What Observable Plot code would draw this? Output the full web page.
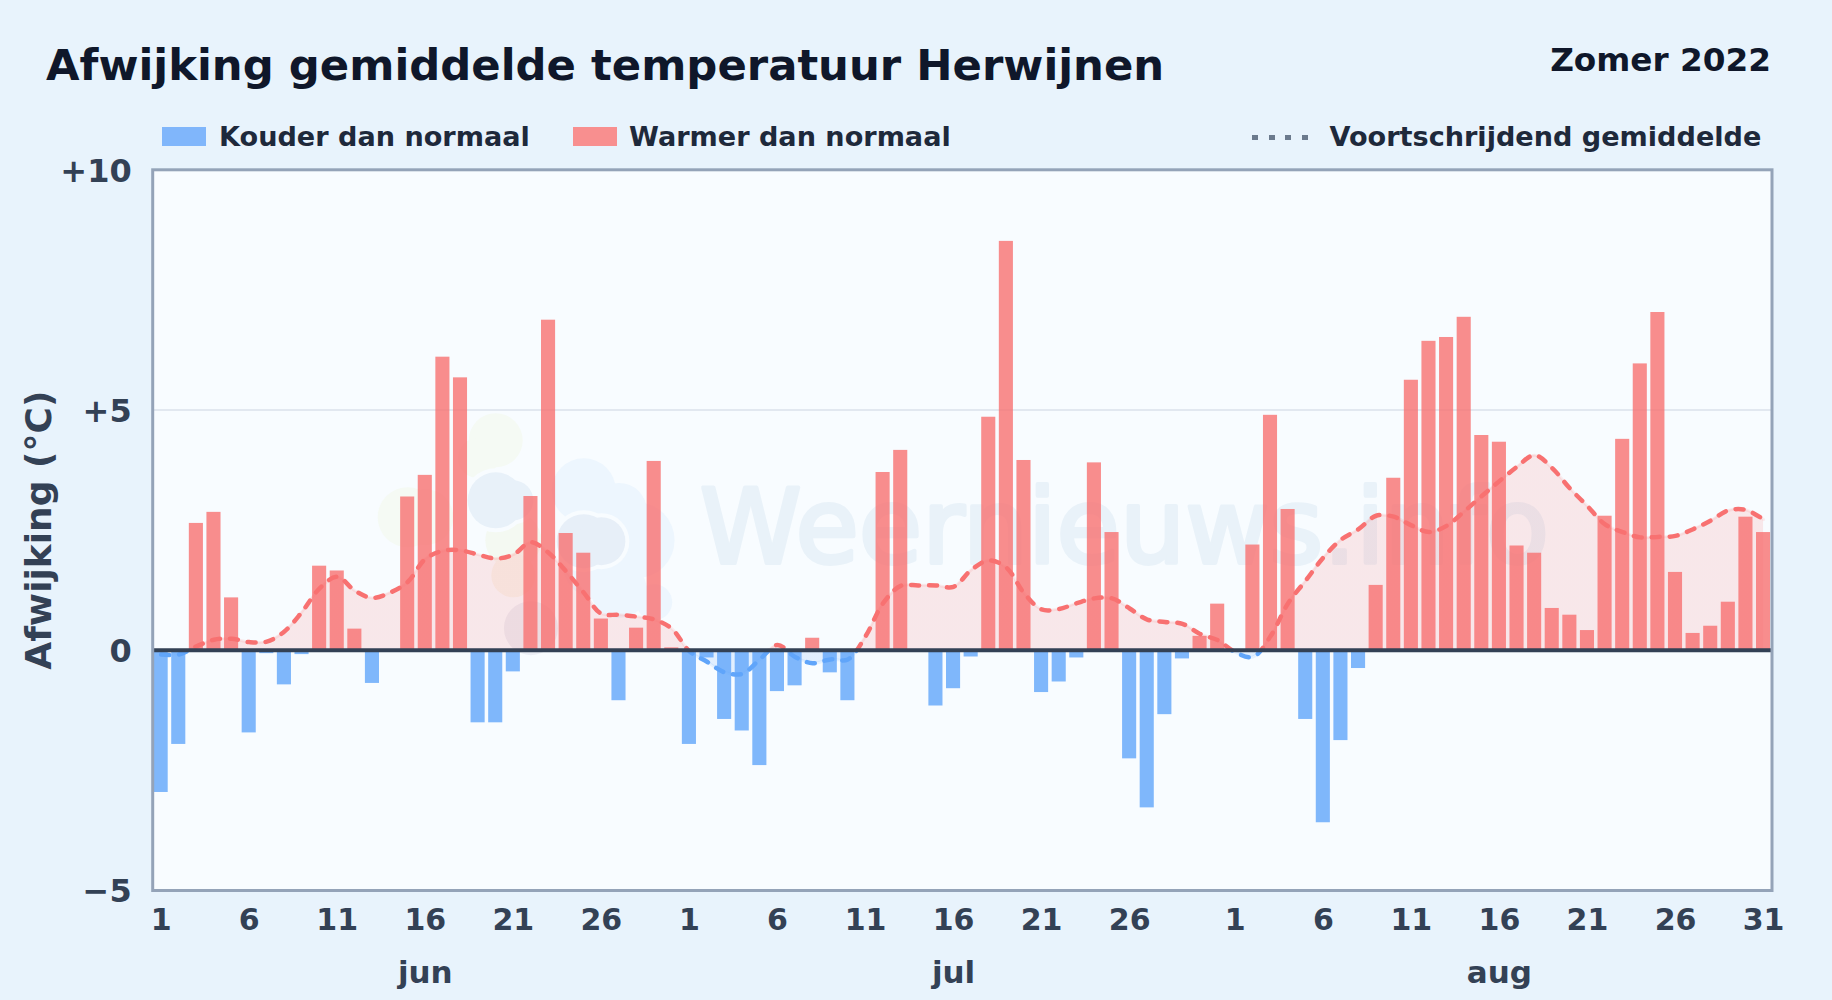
<!DOCTYPE html>
<html lang="nl">
<head>
<meta charset="utf-8">
<script src="https://cdn.jsdelivr.net/npm/d3@7"></script>
<script src="https://cdn.jsdelivr.net/npm/@observablehq/plot@0.6"></script>
<style>
  html,body{margin:0;padding:0;background:#e8f3fc;width:1832px;height:1000px;overflow:hidden;font-family:"DejaVu Sans",sans-serif;font-weight:700}
  #header{position:relative;height:130px;width:1832px}
  #header > *{position:absolute;white-space:nowrap}
  #title{left:46px;top:36px;font-size:43.35px;line-height:58px;color:#0f172a;margin:0;font-weight:700}
  #season{right:61px;top:40px;font-size:32.7px;line-height:40px;color:#0f172a}
  .lg{font-size:27.1px;line-height:34px;top:120px;color:#1e293b}
  .sw{top:127px;width:44px;height:19px}
  #dots{left:1252px;top:135px;width:56px;height:5px;background:repeating-linear-gradient(90deg,#6b7a8d 0 6px,transparent 6px 16.6px)}
  svg{display:block}
</style>
</head>
<body>
<div id="header">
  <h1 id="title"></h1>
  <div id="season"></div>
  <div class="sw" style="left:162px;background:#80b6fb"></div>
  <div class="lg" id="lgCold" style="left:219px"></div>
  <div class="sw" style="left:573px;background:#f88f8f"></div>
  <div class="lg" id="lgWarm" style="left:629px"></div>
  <div id="dots"></div>
  <div class="lg" id="lgAvg" style="left:1329.5px"></div>
</div>
<div id="chart"></div>
<script>
const titleText = "Afwijking gemiddelde temperatuur Herwijnen";
const seasonText = "Zomer 2022";
const legendLabels = ["Kouder dan normaal", "Warmer dan normaal", "Voortschrijdend gemiddelde"];
const yLabel = "Afwijking (°C)";
const monthNames = ["jun", "jul", "aug"];
const monthLengths = [30, 31, 31];

const junValues = [-2.96,-1.96,2.64,2.87,1.09,-1.72,-0.07,-0.72,-0.09,1.75,1.65,0.44,-0.69,0,3.19,3.64,6.10,5.67,-1.51,-1.51,-0.45,3.2,6.87,2.43,2.02,0.65,-1.05,0.46,3.93,0.05];
const julValues = [-1.96,-0.16,-1.44,-1.68,-2.40,-0.86,-0.74,0.25,-0.47,-1.05,0,3.70,4.16,0,-1.16,-0.80,-0.14,4.85,8.51,3.95,-0.88,-0.66,-0.16,3.90,2.45,-2.26,-3.28,-1.34,-0.18,0.29,0.96];
const augValues = [0,2.19,4.89,2.93,-1.44,-3.59,-1.88,-0.38,1.35,3.58,5.62,6.43,6.51,6.93,4.47,4.33,2.17,2.02,0.87,0.73,0.41,2.79,4.39,5.96,7.03,1.62,0.35,0.50,1.0,2.77,2.45];

const junTrend = [-0.09,-0.09,0.08,0.22,0.24,0.17,0.18,0.39,0.8,1.29,1.53,1.24,1.09,1.2,1.42,1.9,2.07,2.08,1.99,1.91,1.99,2.25,2.03,1.64,1.2,0.76,0.74,0.70,0.64,0.45];
const julTrend = [-0.02,-0.24,-0.46,-0.49,-0.19,0.11,-0.14,-0.27,-0.19,-0.19,0.29,0.98,1.34,1.35,1.35,1.32,1.67,1.87,1.72,1.19,0.85,0.86,0.98,1.08,1.08,0.87,0.64,0.59,0.55,0.34,0.21];
const augTrend = [-0.04,-0.14,0.29,0.98,1.45,1.93,2.30,2.52,2.80,2.78,2.60,2.46,2.59,2.89,3.21,3.52,3.82,4.06,3.79,3.37,3.0,2.62,2.46,2.35,2.36,2.38,2.52,2.70,2.91,2.92,2.72];

const yTicks = [-5, 0, 5, 10];
const yTickLabels = ["\u22125", "0", "+5", "+10"];
const dayTicks = [0,5,10,15,20,25,30,35,40,45,50,55,61,66,71,76,81,86,91];
const monthTicks = [15,45,76];

const watermarkText = "Weernieuws.info";
const logoDay   = [19, 18, 14, 15, 20, 20, 24, 27, 25, 26, 26, 28, 19, 20, 24, 25, 21];
const logoValue = [4.37,4.0,2.77,2.77,2.29,1.56,3.33,2.29,1.87,1.25,2.9,1.0,3.12,3.12,2.27,2.27,0.46];
const logoSize  = [27,20,30,28,28,22,32,38,40,28,28,18,28,20,27,24,27];
const logoColor = ["#f5faf4","#f5faf4","#f5faf4","#f5faf4","#f4f9f2","#f7f5ee","#edf6fe","#edf6fe","#edf6fe","#edf6fe","#edf6fe","#edf6fe","#e8f1f9","#e8f1f9","#e7eff8","#e7eff8","#ebeef5"];
const logoFront = [0,0,0,0,0,0,0,0,0,0,0,0,1,1,1,1,1];

document.getElementById("title").textContent = titleText;
document.getElementById("season").textContent = seasonText;
document.getElementById("lgCold").textContent = legendLabels[0];
document.getElementById("lgWarm").textContent = legendLabels[1];
document.getElementById("lgAvg").textContent = legendLabels[2];

const values = [...junValues, ...julValues, ...augValues];
const trend = [...junTrend, ...julTrend, ...augTrend];
const days = values.map((_, i) => i);
const dayOfMonth = [];
const monthOf = [];
monthLengths.forEach((n, m) => { for (let d = 1; d <= n; d++) { dayOfMonth.push(d); monthOf.push(m); } });
const bars = days.map(i => ({i, v: values[i]}));
const avg = days.map(i => ({i, v: trend[i]}));
const logo = logoDay.map((d, k) => ({d, v: logoValue[k], r: logoSize[k], c: logoColor[k], front: logoFront[k]}));
const logoBack = logo.filter(d => !d.front);
const logoTop = logo.filter(d => d.front);

const RED = "#f87171", BLUE = "#60a5fa", PANEL = "#f8fcff";

function gradients(index, scales) {
  const z = scales.y(0);
  const defs = d3.create("svg:defs");
  const make = (id, top, bottom, op) => {
    const g = defs.append("linearGradient").attr("id", id).attr("gradientUnits", "userSpaceOnUse")
      .attr("x1", 0).attr("x2", 0).attr("y1", z - 1).attr("y2", z + 1);
    g.append("stop").attr("offset", 0.5).attr("stop-color", top).attr("stop-opacity", op);
    g.append("stop").attr("offset", 0.5).attr("stop-color", bottom).attr("stop-opacity", op);
  };
  make("gradLine", RED, BLUE, 1);
  make("gradFill", RED, BLUE, 0.15);
  make("gradHalo", RED, BLUE, 0.12);
  return defs.node();
}

const chart = Plot.plot({
  width: 1832,
  height: 870,
  marginLeft: 152.2,
  marginRight: 60.5,
  marginTop: 39.3,
  marginBottom: 110,
  style: {fontFamily: "DejaVu Sans", background: "transparent", overflow: "visible"},
  r: {type: "identity"},
  x: {type: "band", domain: days, paddingInner: 0.2, paddingOuter: 0.08, round: false, label: null},
  y: {domain: [-5, 10], label: null},
  marks: [
    gradients,
    Plot.frame({fill: PANEL, stroke: "none"}),
    Plot.dot(logoBack, {x: "d", y: "v", r: "r", fill: "c", stroke: "none"}),
    Plot.dot(logoTop, {x: "d", y: "v", r: d => d.r + 4, fill: PANEL, stroke: "none"}),
    Plot.dot(logoTop, {x: "d", y: "v", r: "r", fill: "c", stroke: "none"}),
    Plot.text([watermarkText], {frameAnchor: "middle", dx: 162, dy: 0, text: d => d, fontSize: 103, fontWeight: 400, fill: "#e9f2f9", stroke: "#e9f2f9", strokeWidth: 4}),
    Plot.ruleY([5], {stroke: "#e2e8f0", strokeWidth: 2}),
    Plot.areaY(avg, {x: "i", y1: 0, y2: "v", fill: "url(#gradFill)", curve: "catmull-rom"}),
    Plot.barY(bars, {x: "i", y: "v", fill: d => d.v < 0 ? BLUE : RED, fillOpacity: 0.8}),
    Plot.line(avg, {x: "i", y: "v", stroke: "url(#gradHalo)", strokeWidth: 3, curve: "catmull-rom"}),
    Plot.line(avg, {x: "i", y: "v", stroke: "url(#gradLine)", strokeWidth: 4.5, strokeDasharray: "8,10", curve: "catmull-rom", strokeLinecap: "round"}),
    Plot.ruleY([0], {stroke: "#334155", strokeWidth: 4}),
    Plot.frame({stroke: "#94a3b8", strokeWidth: 3, fill: "none"}),
    Plot.axisY({ticks: yTicks, tickFormat: d => yTickLabels[yTicks.indexOf(d)], tickSize: 0, tickPadding: 21, dy: 1.5, fontSize: 32, fontWeight: 700, color: "#334155", label: null}),
    Plot.text([yLabel], {frameAnchor: "left", textAnchor: "middle", rotate: -90, dx: -113.7, text: d => d, fontSize: 36, fontWeight: 700, fill: "#334155"}),
    Plot.axisX({ticks: dayTicks, tickFormat: i => dayOfMonth[i], tickSize: 0, tickPadding: 18.5, fontSize: 30, fontWeight: 700, color: "#334155", label: null}),
    Plot.axisX({ticks: monthTicks, tickFormat: i => monthNames[monthOf[i]], tickSize: 0, tickPadding: 70, fontSize: 31, fontWeight: 700, color: "#334155", label: null})
  ]
});
document.getElementById("chart").appendChild(chart);
</script>
</body>
</html>
